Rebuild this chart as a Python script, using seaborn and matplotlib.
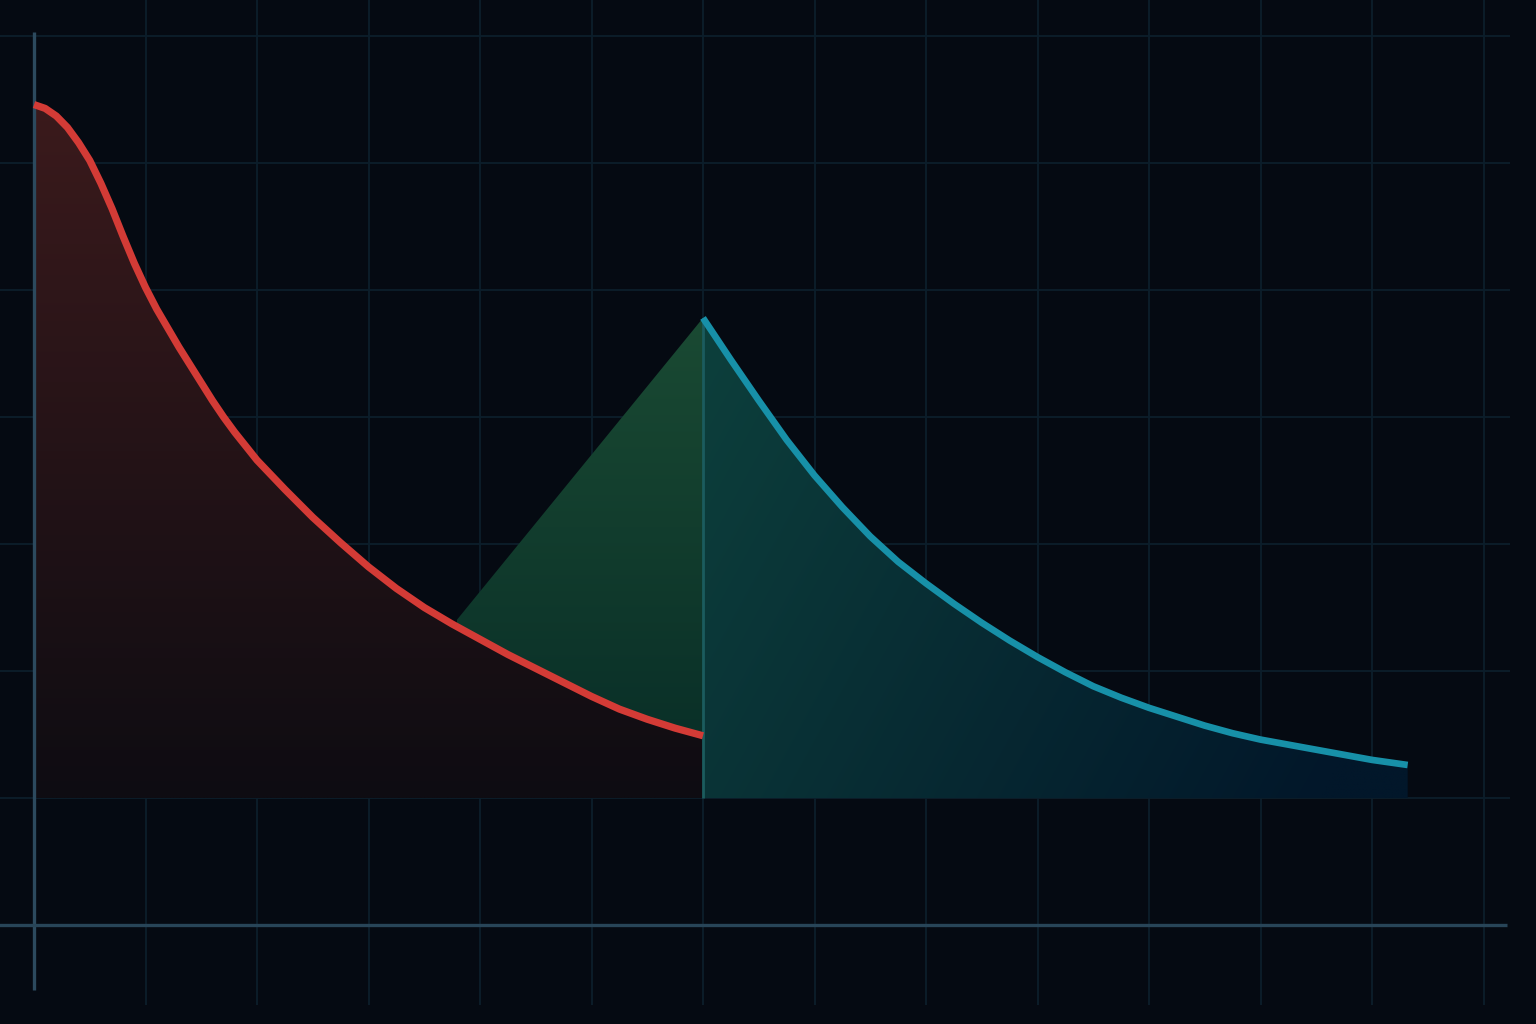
import numpy as np
import matplotlib
matplotlib.use("Agg")
import matplotlib.pyplot as plt
from matplotlib.colors import to_rgb
import seaborn as sns

# values (x in grid units, y in grid units)
red_x = [0, 0.1, 0.2, 0.3, 0.4, 0.5, 0.6, 0.7, 0.8, 0.9, 1.0, 1.1, 1.2, 1.3, 1.4, 1.5,
         1.6, 1.7, 1.8, 1.9, 2.0, 2.25, 2.5, 2.75, 3.0, 3.25, 3.5, 3.75, 4.0, 4.25,
         4.5, 4.75, 5.0, 5.25, 5.5, 5.75, 6.0]
red_y = [6.46, 6.43, 6.37, 6.28, 6.16, 6.02, 5.84, 5.64, 5.42, 5.21, 5.02, 4.85, 4.70,
         4.55, 4.41, 4.27, 4.13, 4.00, 3.88, 3.77, 3.66, 3.43, 3.21, 3.01, 2.82, 2.65,
         2.50, 2.37, 2.25, 2.13, 2.02, 1.91, 1.80, 1.70, 1.62, 1.55, 1.49]

blue_x = [6.0, 6.25, 6.5, 6.75, 7.0, 7.25, 7.5, 7.75, 8.0, 8.25, 8.5, 8.75, 9.0, 9.25,
          9.5, 9.75, 10.0, 10.25, 10.5, 10.75, 11.0, 11.25, 11.5, 11.75, 12.0, 12.32]
blue_y = [4.78, 4.45, 4.13, 3.82, 3.54, 3.29, 3.06, 2.86, 2.69, 2.53, 2.38, 2.24, 2.11,
          1.99, 1.88, 1.79, 1.71, 1.64, 1.57, 1.51, 1.46, 1.42, 1.38, 1.34, 1.30, 1.26]

green_x = [3.79, 6.0]
green_y = [2.40, 4.78]

fill_floor = 1.0
grid_x = list(range(1, 14))
grid_y = list(range(1, 8))

BG = "#050a12"
GRID = "#0c1e2b"
AXIS = "#2c4a5e"
RED = "#d33b36"
BLUE = "#1790a8"


def gradient_fill(ax, x, lower, upper, c0, c1, mode="vertical", zorder=1):
    """Fill between lower/upper with a colour gradient clipped to the region."""
    poly = ax.fill_between(x, lower, upper, facecolor="none", edgecolor="none")
    x0, x1 = min(x), max(x)
    y0, y1 = float(np.min(lower)), float(np.max(upper))
    ny, nx = 200, 200
    u = np.linspace(0, 1, nx)[None, :]
    v = np.linspace(0, 1, ny)[:, None]
    if mode == "vertical":
        t = np.repeat(1 - v, nx, axis=1)
    else:
        t = np.clip(0.8 * u + 0.3 * (1 - v), 0, 1)
    a, b = np.array(to_rgb(c0)), np.array(to_rgb(c1))
    img = a[None, None, :] * (1 - t[..., None]) + b[None, None, :] * t[..., None]
    im = ax.imshow(img, extent=[x0, x1, y0, y1], origin="lower",
                   aspect="auto", zorder=zorder, interpolation="bilinear")
    im.set_clip_path(poly.get_paths()[0], transform=ax.transData)
    return im


sns.set_style("dark", rc={"axes.facecolor": BG, "figure.facecolor": BG})

fig = plt.figure(figsize=(15.36, 10.24), dpi=100)
ax = fig.add_axes([0, 0, 1, 1])
ax.set_facecolor(BG)

# grid
ax.vlines(grid_x, -0.63, 7.4, color=GRID, linewidth=1.3, zorder=0)
ax.hlines(grid_y, -0.4, 13.24, color=GRID, linewidth=1.3, zorder=0)

# fills
rx = np.array(red_x)
ry = np.array(red_y)
gradient_fill(ax, rx, np.full_like(ry, fill_floor), ry, "#3b1a1c", "#0e0c12", zorder=1)

mask = rx >= green_x[0]
gx = np.concatenate([[green_x[0]], rx[mask]])
g_low = np.interp(gx, rx, ry)
g_up = np.interp(gx, green_x, green_y)
gradient_fill(ax, gx, g_low, g_up, "#1a4a33", "#0a3028", zorder=1)

bx = np.array(blue_x)
by = np.array(blue_y)
gradient_fill(ax, bx, np.full_like(by, fill_floor), by, "#0d403c", "#02172a",
              mode="diag", zorder=1)
ax.vlines(blue_x[0], fill_floor, blue_y[0], color="#1b5c5e", linewidth=2, zorder=2)

# axes lines
ax.vlines(0, -0.51, 7.03, color=AXIS, linewidth=2.4, zorder=3)
ax.hlines(0, -0.4, 13.21, color="#284558", linewidth=2.4, zorder=3)

# curves
sns.lineplot(x=red_x, y=red_y, color=RED, linewidth=5.2, ax=ax, zorder=4,
             solid_capstyle="butt", solid_joinstyle="round")
sns.lineplot(x=blue_x, y=blue_y, color=BLUE, linewidth=4.8, ax=ax, zorder=4,
             solid_capstyle="butt", solid_joinstyle="round")

ax.set_xlim(-34 / 111.5, 1502 / 111.5)
ax.set_ylim(-99 / 127, 925 / 127)
ax.set_xticks([])
ax.set_yticks([])
ax.grid(False)
for s in ax.spines.values():
    s.set_visible(False)

fig.savefig("out.png", dpi=100, facecolor=BG)
